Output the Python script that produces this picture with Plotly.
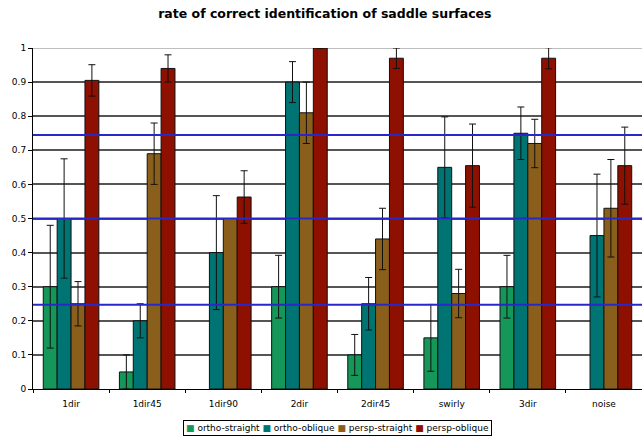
import plotly.graph_objects as go

categories = ["1dir", "1dir45", "1dir90", "2dir", "2dir45", "swirly", "3dir", "noise"]
series_names = ["ortho-straight", "ortho-oblique", "persp-straight", "persp-oblique"]

ortho_straight = [0.30, 0.05, None, 0.30, 0.10, 0.15, 0.30, None]
ortho_straight_err = [0.18, 0.05, None, 0.092, 0.06, 0.098, 0.092, None]
ortho_oblique = [0.50, 0.20, 0.40, 0.90, 0.25, 0.65, 0.75, 0.45]
ortho_oblique_err = [0.175, 0.05, 0.167, 0.06, 0.077, 0.148, 0.077, 0.18]
persp_straight = [0.25, 0.69, 0.50, 0.81, 0.44, 0.28, 0.72, 0.53]
persp_straight_err = [0.065, 0.09, None, 0.09, 0.09, 0.071, 0.071, 0.143]
persp_oblique = [0.905, 0.94, 0.563, 1.0, 0.97, 0.655, 0.97, 0.655]
persp_oblique_err = [0.046, 0.04, 0.077, None, 0.03, 0.122, 0.031, 0.113]

reference_levels = [0.247, 0.5, 0.745]
y_ticks = [0, 0.1, 0.2, 0.3, 0.4, 0.5, 0.6, 0.7, 0.8, 0.9, 1]
y_tick_labels = ["0", "0.1", "0.2", "0.3", "0.4", "0.5", "0.6", "0.7", "0.8", "0.9", "1"]

colors = ["#16975A", "#007473", "#8A5F1C", "#8E1000"]

values = [ortho_straight, ortho_oblique, persp_straight, persp_oblique]
errors = [ortho_straight_err, ortho_oblique_err, persp_straight_err, persp_oblique_err]

font = "DejaVu Sans"
fig = go.Figure()
for name, vals, errs, col in zip(series_names, values, errors, colors):
    fig.add_trace(go.Bar(
        name=name, x=categories, y=vals,
        marker=dict(color=col, line=dict(color="#111111", width=1)),
        error_y=dict(type="data", array=errs, visible=True,
                     color="#111111", thickness=1, width=3.5),
        showlegend=False,
    ))

shapes = []
for lv in reference_levels:
    shapes.append(dict(type="line", xref="paper", yref="y", x0=0, x1=1, y0=lv, y1=lv,
                       line=dict(color="#2828C8", width=2), layer="above"))
shapes.append(dict(type="line", xref="paper", yref="y", x0=0, x1=1, y0=1, y1=1,
                   line=dict(color="#AAAAAA", width=1.5), layer="below"))

legend_text = "&nbsp;".join(
    f'<span style="color:{c}">■</span>&nbsp;{n}' for n, c in zip(series_names, colors)
)

fig.update_layout(
    width=642, height=439,
    margin=dict(l=33, r=0, t=48, b=50, autoexpand=False),
    paper_bgcolor="white", plot_bgcolor="white",
    barmode="group", bargap=0.27, bargroupgap=0,
    title=dict(text="<b>rate of correct identification of saddle surfaces</b>",
               x=0.506, xanchor="center", y=0.968, yanchor="middle",
               font=dict(family=font, size=12.5, color="black")),
    font=dict(family=font, size=9, color="black"),
    showlegend=False,
    shapes=shapes,
    annotations=[dict(text=legend_text, xref="paper", yref="paper", x=0.5, y=-0.114,
                      xanchor="center", yanchor="middle", showarrow=False,
                      bordercolor="black", borderwidth=1, borderpad=2, bgcolor="white",
                      font=dict(family=font, size=9, color="black"))],
)
fig.update_xaxes(type="category", tickson="boundaries", ticks="outside", ticklen=3,
                 tickcolor="black", showline=True, linecolor="black", linewidth=1,
                 showgrid=False, ticklabelstandoff=6, tickfont=dict(family=font, size=9))
fig.update_yaxes(range=[0, 1], tickvals=y_ticks, ticktext=y_tick_labels,
                 ticks="outside", ticklen=4, tickcolor="black",
                 showline=True, linecolor="black", linewidth=1,
                 showgrid=True, gridcolor="#555555", gridwidth=1.5,
                 zeroline=False, tickfont=dict(family=font, size=9))

fig.write_html("out.html", config={"displayModeBar": False},
               post_script="document.body.style.margin='0';document.body.style.overflow='hidden';")
